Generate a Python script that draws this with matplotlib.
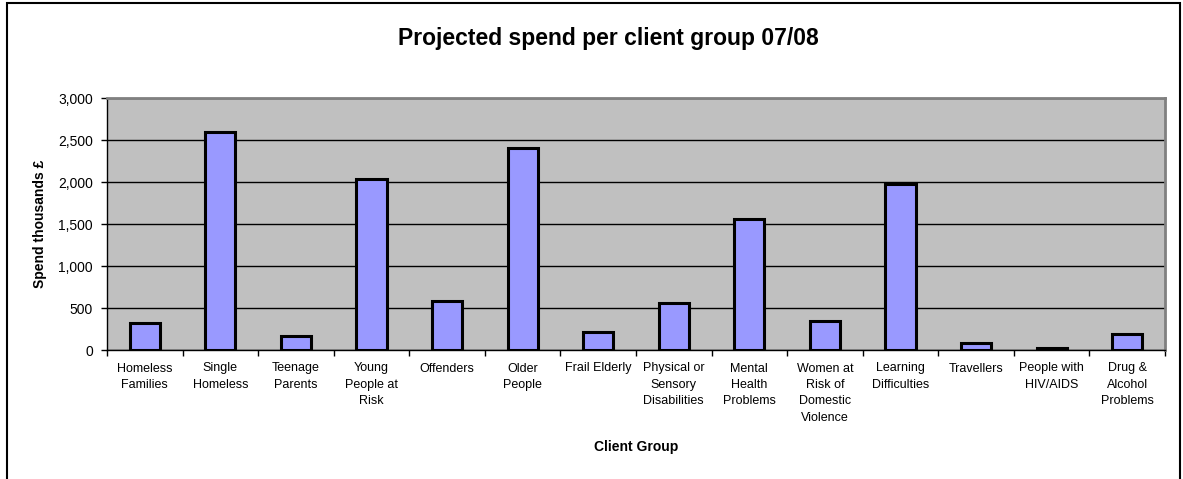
import matplotlib
matplotlib.use("Agg")
import matplotlib.pyplot as plt
import numpy as np
from matplotlib.patches import Rectangle

plt.rcParams['font.family'] = ['Liberation Sans', 'DejaVu Sans']

categories = ["Homeless\nFamilies", "Single\nHomeless", "Teenage\nParents", "Young\nPeople at\nRisk",
              "Offenders", "Older\nPeople", "Frail Elderly", "Physical or\nSensory\nDisabilities",
              "Mental\nHealth\nProblems", "Women at\nRisk of\nDomestic\nViolence", "Learning\nDifficulties",
              "Travellers", "People with\nHIV/AIDS", "Drug &\nAlcohol\nProblems"]
spend = [325, 2600, 170, 2040, 580, 2410, 210, 565, 1555, 350, 1975, 80, 25, 185]
yticks = [0, 500, 1000, 1500, 2000, 2500, 3000]
ytick_labels = ["0", "500", "1,000", "1,500", "2,000", "2,500", "3,000"]

W, H = 1183, 479
fig = plt.figure(figsize=(W / 100, H / 100), dpi=100)
fig.patch.set_facecolor("white")

# figure frame
fig.add_artist(Rectangle((7 / W, -0.1), (1180 - 7) / W, 1 - 3 / H + 0.1, transform=fig.transFigure,
                         fill=False, edgecolor="black", linewidth=1.5))

ax = fig.add_axes([107 / W, 1 - 350 / H, (1165 - 107) / W, (350 - 98) / H])
ax.set_facecolor("#c0c0c0")

x = np.arange(len(categories))
ax.bar(x, spend, width=0.4, color="#9999ff", edgecolor="black", linewidth=2.2, zorder=3)

ax.set_xlim(-0.5, len(categories) - 0.5)
ax.set_ylim(0, 3000)
ax.set_yticks(yticks)
ax.set_yticklabels(ytick_labels, fontsize=10)
ax.yaxis.grid(True, color="black", linewidth=1, zorder=1)
ax.set_axisbelow(True)

ax.set_xticks(np.arange(len(categories) + 1) - 0.5)
ax.set_xticklabels([])
ax.set_xticks(x, minor=True)
ax.set_xticklabels(categories, minor=True, fontsize=9, linespacing=1.5, va="top")
ax.tick_params(axis="x", which="minor", length=0, pad=9)
ax.tick_params(axis="x", which="major", length=4, direction="out", width=1)
ax.tick_params(axis="y", length=4, direction="out", width=1, pad=6)

for s in ["left", "bottom"]:
    ax.spines[s].set_color("black")
    ax.spines[s].set_linewidth(1)
for s in ["top", "right"]:
    ax.spines[s].set_color("#808080")
    ax.spines[s].set_linewidth(2)

fig.text(608 / W, 1 - 39 / H, "Projected spend per client group 07/08", ha="center", va="center",
         fontsize=16.5, fontweight="bold")
fig.text(40 / W, 1 - 224 / H, "Spend thousands £", rotation=90, ha="center", va="center",
         fontsize=10, fontweight="bold")
fig.text(636 / W, 1 - 447 / H, "Client Group", ha="center", va="center",
         fontsize=10, fontweight="bold")

fig.savefig("out.png", dpi=100)
